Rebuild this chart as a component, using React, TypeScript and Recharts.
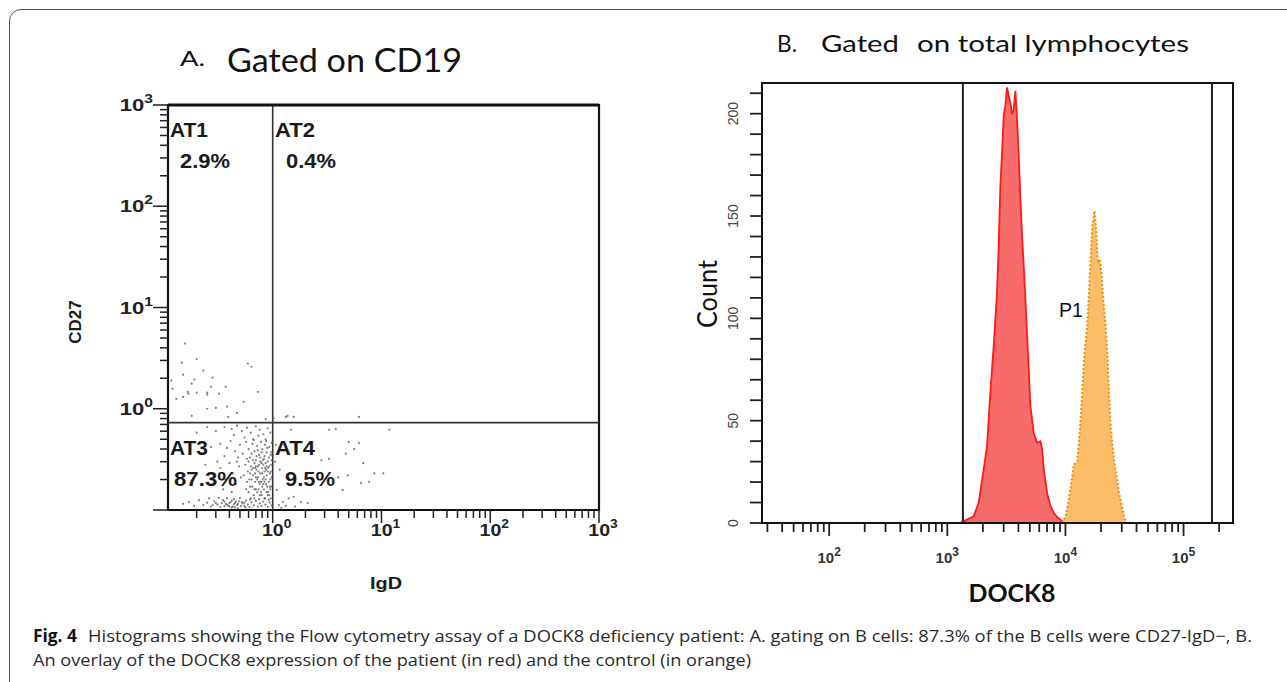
import React from 'react'
import {
  ScatterChart,
  Scatter,
  ComposedChart,
  Area,
  XAxis,
  YAxis,
  ReferenceLine,
  ReferenceArea,
} from 'recharts'

// ---- Panel A: CD27 vs IgD dot plot (gated on CD19), events ----
const AT1_EVENTS: [number, number][] = [
  [0.156, 4.4], [0.146, 2.85], [0.2, 3.1], [0.59, 2.8], [0.64, 2.6], [0.23, 2.38],
  [0.15, 2.17], [0.28, 2.03], [0.18, 1.77], [0.19, 1.94], [0.37, 1.65], [0.27, 1.65],
  [0.12, 1.58], [0.165, 1.47], [0.168, 1.41], [0.2, 1.44], [0.25, 1.44], [0.25, 1.38],
  [0.32, 1.41], [0.73, 1.47], [0.15, 1.31], [0.54, 1.17], [0.25, 1.0], [0.3, 1.02],
  [0.38, 1.05], [0.47, 0.91], [0.18, 0.85], [0.39, 0.83], [0.86, 0.79], [0.117, 1.9],
  [0.13, 1.25],
]

const AT2_EVENTS: [number, number][] = [
  [1.02, 0.81], [1.32, 0.83], [1.37, 0.85], [1.56, 0.83], [6.2, 0.83],
]

const AT3_EVENTS: [number, number][] = [
  // upper band of the negative population
  [0.36, 0.66], [0.42, 0.63], [0.47, 0.68], [0.52, 0.6], [0.58, 0.65], [0.63, 0.58],
  [0.7, 0.67], [0.76, 0.62], [0.82, 0.56], [0.9, 0.64], [0.95, 0.58], [0.55, 0.52],
  [0.66, 0.5], [0.74, 0.54], [0.86, 0.5], [0.44, 0.55], [0.3, 0.6], [0.25, 0.66], [0.2, 0.58],
  // middle
  [0.33, 0.45], [0.38, 0.41], [0.41, 0.48], [0.45, 0.38], [0.5, 0.44], [0.53, 0.36],
  [0.57, 0.47], [0.6, 0.4], [0.62, 0.33], [0.65, 0.45], [0.68, 0.38], [0.7, 0.31],
  [0.72, 0.43], [0.75, 0.35], [0.78, 0.47], [0.8, 0.4], [0.83, 0.32], [0.85, 0.44],
  [0.88, 0.37], [0.9, 0.3], [0.93, 0.42], [0.96, 0.35], [0.98, 0.46], [0.67, 0.49],
  [0.58, 0.32], [0.48, 0.33], [0.27, 0.42], [0.22, 0.36], [0.36, 0.34], [0.77, 0.3],
  [0.87, 0.48], [0.73, 0.39], [0.64, 0.36], [0.97, 0.37], [0.89, 0.41], [0.79, 0.37],
  // dense core
  [0.56, 0.28], [0.59, 0.24], [0.61, 0.2], [0.63, 0.27], [0.65, 0.17], [0.66, 0.22],
  [0.68, 0.29], [0.69, 0.19], [0.71, 0.25], [0.72, 0.15], [0.73, 0.21], [0.75, 0.28],
  [0.76, 0.18], [0.77, 0.23], [0.79, 0.14], [0.8, 0.26], [0.81, 0.2], [0.83, 0.16],
  [0.84, 0.24], [0.86, 0.29], [0.87, 0.18], [0.88, 0.22], [0.9, 0.14], [0.91, 0.26],
  [0.92, 0.19], [0.94, 0.23], [0.95, 0.16], [0.97, 0.28], [0.98, 0.21], [0.6, 0.15],
  [0.63, 0.13], [0.67, 0.14], [0.7, 0.27], [0.74, 0.16], [0.78, 0.19], [0.82, 0.28],
  [0.85, 0.13], [0.89, 0.17], [0.93, 0.27], [0.96, 0.13], [0.58, 0.19], [0.62, 0.23],
  [0.66, 0.26], [0.7, 0.16], [0.74, 0.24], [0.79, 0.29], [0.83, 0.21], [0.87, 0.25],
  [0.91, 0.15], [0.95, 0.2], [0.54, 0.22], [0.57, 0.16], [0.64, 0.2], [0.72, 0.2],
  [0.8, 0.17], [0.88, 0.27], [0.97, 0.17], [0.69, 0.23], [0.76, 0.14], [0.84, 0.19],
  [0.6, 0.3], [0.62, 0.17], [0.64, 0.25], [0.66, 0.31], [0.68, 0.16], [0.7, 0.21],
  [0.71, 0.34], [0.73, 0.27], [0.75, 0.19], [0.77, 0.33], [0.78, 0.15], [0.8, 0.23],
  [0.82, 0.18], [0.84, 0.34], [0.86, 0.2], [0.88, 0.15], [0.9, 0.24], [0.92, 0.33],
  [0.94, 0.17], [0.96, 0.24], [0.98, 0.31], [0.85, 0.26], [0.81, 0.31], [0.69, 0.26],
  [0.93, 0.14],
  // left, sparse
  [0.24, 0.28], [0.29, 0.22], [0.33, 0.26], [0.37, 0.2], [0.4, 0.29], [0.43, 0.23],
  [0.46, 0.18], [0.49, 0.27], [0.51, 0.21], [0.35, 0.16], [0.42, 0.15], [0.31, 0.3],
  [0.19, 0.21], [0.47, 0.3],
  // on the lower edge
  [0.15, 0.115], [0.17, 0.12], [0.19, 0.11], [0.21, 0.125], [0.23, 0.112], [0.25, 0.118],
  [0.27, 0.108], [0.29, 0.122], [0.31, 0.113], [0.33, 0.107], [0.35, 0.125], [0.37, 0.115],
  [0.39, 0.11], [0.41, 0.12], [0.43, 0.108], [0.45, 0.117], [0.47, 0.112], [0.49, 0.122],
  [0.51, 0.109], [0.53, 0.116], [0.55, 0.11], [0.57, 0.124], [0.59, 0.113], [0.61, 0.107],
  [0.64, 0.119], [0.67, 0.111], [0.7, 0.123], [0.73, 0.108], [0.76, 0.116], [0.79, 0.11],
  [0.82, 0.121], [0.86, 0.113], [0.9, 0.107], [0.94, 0.118], [0.98, 0.111], [0.38, 0.13],
  [0.44, 0.128], [0.5, 0.132], [0.32, 0.132], [0.26, 0.13], [0.42, 0.106], [0.36, 0.109],
  [0.48, 0.104], [0.56, 0.106], [0.62, 0.127], [0.68, 0.13], [0.75, 0.128], [0.84, 0.13],
  [0.92, 0.126], [0.34, 0.117], [0.36, 0.121], [0.38, 0.113], [0.4, 0.117], [0.42, 0.124],
  [0.44, 0.114], [0.46, 0.121], [0.48, 0.115], [0.4, 0.108], [0.45, 0.106], [0.52, 0.12],
  [0.3, 0.117], [0.28, 0.112], [0.55, 0.118],
]

const AT4_EVENTS: [number, number][] = [
  [1.47, 0.62], [3.8, 0.63], [11.8, 0.62], [3.3, 0.62], [5.0, 0.47], [5.6, 0.4],
  [6.2, 0.46], [2.8, 0.31], [3.3, 0.32], [4.7, 0.36], [6.8, 0.29], [10.4, 0.23],
  [8.6, 0.23], [7.7, 0.19], [6.5, 0.185], [4.9, 0.22], [4.4, 0.158], [4.0, 0.21],
  [1.24, 0.12], [1.4, 0.13], [1.56, 0.135], [1.82, 0.12], [2.1, 0.117], [1.14, 0.112],
  [1.32, 0.11], [1.09, 0.158], [1.16, 0.25], [1.07, 0.44], [1.2, 0.105], [1.6, 0.108],
  [1.05, 0.3],
]

const IGD_GATE = 1
const CD27_GATE = 0.73
const IGD_DOMAIN = [0.109, 1000]
const CD27_DOMAIN = [0.1, 1000]

const QUADRANT_LABELS = ['AT1', 'AT2', 'AT3', 'AT4']
const QUADRANT_PCT = ['2.9%', '0.4%', '87.3%', '9.5%']

// ---- Panel B: DOCK8 histograms ----
const PATIENT_DOCK8 = [
  1287, 1670, 1842, 2030, 2167, 2313, 2469, 2635, 2722, 2813, 2906, 3002, 3101, 3203,
  3309, 3420, 3532, 3648, 3770, 3895, 4024, 4158, 4295, 4437, 4585, 4736, 4893, 5054,
  5395, 5760, 6147, 6352, 6561, 7002, 7475, 7977, 8514, 9087, 9698,
]
const PATIENT_COUNT = [
  0, 3.3, 9.8, 26.1, 37.5, 63.6, 86.4, 112.5, 135.3, 164.7, 181, 198.9, 203.8, 212.8,
  208.7, 205.4, 199.7, 202.2, 211.2, 197.3, 179.4, 158.2, 140.2, 125.5, 109.2, 91.3, 75, 57.1,
  44, 39.1, 39.9, 35.9, 26.1, 14.7, 8.2, 4.9, 2.9, 1.6, 0.3,
]
const CONTROL_DOCK8 = [
  9389, 10020, 10693, 11413, 11790, 12586, 13265, 13881, 14338, 15302, 15810, 16336, 16876,
  17660, 18250, 18850, 19605, 20256, 20925, 21900, 22630, 23380, 24150, 25770, 28420, 30330,
  31330, 32370,
]
const CONTROL_COUNT = [
  0, 3.3, 11.4, 22.8, 28.5, 30.2, 45.7, 63.6, 79.9, 96.2, 112.5, 128.8, 145.1,
  152.5, 141.9, 127.2, 128.8, 120.7, 109.2, 96.2, 83.2, 63.6, 47.3, 31, 14.7, 7.3,
  3.3, 0,
]
const P1_GATE = [1355, 174000]
const DOCK8_DOMAIN = [27, 262144]
const COUNT_DOMAIN = [0, 215]
const COUNT_TICKS = Array.from({ length: 22 }, (_, i) => i * 10)
const COUNT_LABELS = [0, 50, 100, 150, 200]

// log axis ticks: 1..9 x each decade
const logTicks = (decades: number[], lo: number, hi: number) =>
  decades
    .flatMap((d) => [1, 2, 3, 4, 5, 6, 7, 8, 9].map((m) => +(m * d).toPrecision(3)))
    .concat([hi])
    .filter((v) => v >= lo && v <= hi)

const A_X_TICKS = logTicks([0.1, 1, 10, 100], IGD_DOMAIN[0], IGD_DOMAIN[1])
const A_Y_TICKS = logTicks([0.1, 1, 10, 100], CD27_DOMAIN[0], CD27_DOMAIN[1])
const B_X_TICKS = logTicks([10, 100, 1000, 10000], 30, 100000).concat([200000])

const isDecade = (v: number) => {
  const l = Math.log10(v)
  return Math.abs(l - Math.round(l)) < 1e-6
}
const expOf = (v: number) => Math.round(Math.log10(v))

const ARIAL = '"Liberation Sans", Arial, sans-serif'
const HUMAN = 'Lato, "Open Sans", sans-serif'

function XTickA({ x, y, payload }: any) {
  const major = isDecade(payload.value)
  return (
    <g>
      <line x1={x} x2={x} y1={y} y2={y + (major ? 13 : 8)} stroke="#222" strokeWidth={1.5} />
      {major && (
        <text
          transform={`translate(${x + 4},${y + 26}) scale(1.15,1)`}
          textAnchor="middle" fontFamily={ARIAL} fontWeight="bold" fontSize={17} fill="#222"
        >
          10<tspan dy={-8} fontSize={12}>{expOf(payload.value)}</tspan>
        </text>
      )}
    </g>
  )
}

function YTickA({ x, y, payload }: any) {
  const major = isDecade(payload.value)
  const e = expOf(payload.value)
  return (
    <g>
      <line x1={x} x2={x - (major ? 15 : 8)} y1={y} y2={y} stroke="#222" strokeWidth={1.5} />
      {major && e >= 0 && (
        <text
          transform={`translate(${x - 15},${y + 6}) scale(1.3,1)`}
          textAnchor="end" fontFamily={ARIAL} fontWeight="bold" fontSize={17} fill="#222"
        >
          10<tspan dy={-8} fontSize={12}>{e}</tspan>
        </text>
      )}
    </g>
  )
}

function XTickB({ x, y, payload }: any) {
  const major = isDecade(payload.value)
  return (
    <g>
      <line x1={x} x2={x} y1={y} y2={y + (major ? 13 : 9)} stroke="#222" strokeWidth={1.8} />
      {major && (
        <text x={x} y={y + 40} textAnchor="middle" fontFamily={ARIAL} fontWeight="bold" fontSize={15} fill="#333">
          10<tspan dy={-7} fontSize={12}>{expOf(payload.value)}</tspan>
        </text>
      )}
    </g>
  )
}

function YTickB({ x, y, payload }: any) {
  const v = payload.value
  return (
    <g>
      <line x1={x} x2={x - 12} y1={y} y2={y} stroke="#222" strokeWidth={1.8} />
      {COUNT_LABELS.includes(v) && (
        <text transform={`translate(${x - 24},${y}) rotate(-90)`} textAnchor="middle" fontFamily={ARIAL} fontSize={14} fill="#444">
          {v}
        </text>
      )}
    </g>
  )
}

const eventDot = (p: any) => <circle cx={p.cx} cy={p.cy} r={1.1} fill="#555" fillOpacity={0.75} />

export default function App() {
  const events = [...AT1_EVENTS, ...AT2_EVENTS, ...AT3_EVENTS, ...AT4_EVENTS].map(([x, y]) => ({ x, y }))

  const histRows = [
    ...PATIENT_DOCK8.map((d, i) => ({ dock8: d, patient: PATIENT_COUNT[i], control: null })),
    ...CONTROL_DOCK8.map((d, i) => ({ dock8: d, patient: null, control: CONTROL_COUNT[i] })),
  ].sort((a, b) => a.dock8 - b.dock8)

  // quadrant label anchors: x of name, x of %, widths, baseline of name
  const qPos = [
    { x: 170, px: 180, w: 38, pw: 50, y: 137 },
    { x: 275, px: 286, w: 40, pw: 50, y: 137 },
    { x: 170, px: 174, w: 38, pw: 63, y: 455 },
    { x: 275, px: 285, w: 40, pw: 50, y: 455 },
  ]

  return (
    <div style={{ position: 'absolute', left: 0, top: 0, width: 1287, height: 682, overflow: 'hidden', background: '#fff' }}>
      <div
        style={{
          position: 'absolute', left: 9, top: 9, width: 1310, height: 710,
          border: '1.5px solid #555', borderRadius: 12, boxSizing: 'border-box',
        }}
      />

      {/* A. dot plot */}
      <div style={{ position: 'absolute', left: 88, top: 90 }}>
        <ScatterChart width={530} height={470} margin={{ top: 15, right: 19, bottom: 0, left: 0 }}>
          <XAxis
            type="number" dataKey="x" scale="log" domain={IGD_DOMAIN} allowDataOverflow
            ticks={A_X_TICKS} interval={0} tick={XTickA} tickLine={false} axisLine={false}
            tickSize={0} tickMargin={0} height={50}
          />
          <YAxis
            type="number" dataKey="y" scale="log" domain={CD27_DOMAIN} allowDataOverflow
            ticks={A_Y_TICKS} interval={0} tick={YTickA} tickLine={false} axisLine={false}
            tickSize={0} tickMargin={0} width={80}
          />
          <Scatter data={events} isAnimationActive={false} shape={eventDot} />
          <ReferenceLine x={IGD_GATE} stroke="#333" strokeWidth={1.6} />
          <ReferenceLine y={CD27_GATE} stroke="#333" strokeWidth={1.6} />
          <ReferenceArea
            x1={IGD_DOMAIN[0]} x2={IGD_DOMAIN[1]} y1={CD27_DOMAIN[0]} y2={CD27_DOMAIN[1]}
            fill="none" stroke="#111" strokeWidth={2.2} ifOverflow="visible"
          />
          <ReferenceLine y={CD27_DOMAIN[1]} stroke="#111" strokeWidth={3.2} />
        </ScatterChart>
      </div>

      {/* B. DOCK8 overlay histogram */}
      <div style={{ position: 'absolute', left: 690, top: 70 }}>
        <ComposedChart width={560} height={520} data={histRows} margin={{ top: 13, right: 17, bottom: 0, left: 0 }}>
          <XAxis
            type="number" dataKey="dock8" scale="log" domain={DOCK8_DOMAIN} allowDataOverflow
            ticks={B_X_TICKS} interval={0} tick={XTickB} tickLine={false} axisLine={false}
            tickSize={0} tickMargin={0} height={67}
          />
          <YAxis
            type="number" domain={COUNT_DOMAIN} allowDataOverflow ticks={COUNT_TICKS} interval={0}
            tick={YTickB} tickLine={false} axisLine={false} tickSize={0} tickMargin={0} width={72}
          />
          <Area
            dataKey="patient" type="linear" connectNulls stroke="#ff1a1a" strokeWidth={1.8}
            fill="#f76b6b" fillOpacity={1} dot={false} activeDot={false} isAnimationActive={false}
          />
          <Area
            dataKey="control" type="linear" connectNulls stroke="#f0900f" strokeWidth={2}
            strokeDasharray="2 2" fill="#fbbd68" fillOpacity={1} dot={false} activeDot={false}
            isAnimationActive={false}
          />
          <ReferenceLine x={P1_GATE[0]} stroke="#222" strokeWidth={2} />
          <ReferenceLine x={P1_GATE[1]} stroke="#222" strokeWidth={2} />
          <ReferenceArea
            x1={DOCK8_DOMAIN[0]} x2={DOCK8_DOMAIN[1]} y1={COUNT_DOMAIN[0]} y2={COUNT_DOMAIN[1]}
            fill="none" stroke="#111" strokeWidth={2} ifOverflow="visible"
          />
        </ComposedChart>
      </div>

      {/* titles, axis names, quadrant stats, caption */}
      <svg width={1287} height={682} style={{ position: 'absolute', left: 0, top: 0, pointerEvents: 'none' }}>
        <text x={180} y={66} fontFamily={HUMAN} fontSize={21} fill="#111" textLength={25} lengthAdjust="spacingAndGlyphs">A.</text>
        <text x={227} y={72} fontFamily={HUMAN} fontSize={33} fill="#111" textLength={235} lengthAdjust="spacingAndGlyphs">Gated on CD19</text>

        <text x={777} y={52} fontFamily={HUMAN} fontSize={24} fill="#111" textLength={20} lengthAdjust="spacingAndGlyphs">B.</text>
        <text x={821} y={52} fontFamily={HUMAN} fontSize={24} fill="#111" textLength={78} lengthAdjust="spacingAndGlyphs">Gated</text>
        <text x={917} y={52} fontFamily={HUMAN} fontSize={24} fill="#111" textLength={272} lengthAdjust="spacingAndGlyphs">on total lymphocytes</text>

        {QUADRANT_LABELS.map((q, i) => (
          <g key={q}>
            <text x={qPos[i].x} y={qPos[i].y} fontFamily={ARIAL} fontWeight="bold" fontSize={21} fill="#1a1a1a" textLength={qPos[i].w} lengthAdjust="spacingAndGlyphs">{q}</text>
            <text x={qPos[i].px} y={qPos[i].y + 31} fontFamily={ARIAL} fontWeight="bold" fontSize={20} fill="#1a1a1a" textLength={qPos[i].pw} lengthAdjust="spacingAndGlyphs">{QUADRANT_PCT[i]}</text>
          </g>
        ))}

        <text transform="translate(81,322) rotate(-90)" textAnchor="middle" fontFamily={ARIAL} fontWeight="bold" fontSize={17} fill="#1a1a1a">CD27</text>
        <text x={386} y={589} textAnchor="middle" fontFamily={ARIAL} fontWeight="bold" fontSize={17} fill="#1a1a1a" textLength={32} lengthAdjust="spacingAndGlyphs">IgD</text>

        <text transform="translate(717,294) rotate(-90)" textAnchor="middle" fontFamily={HUMAN} fontSize={26} fill="#111" textLength={68} lengthAdjust="spacingAndGlyphs">Count</text>
        <text x={1012} y={602} textAnchor="middle" fontFamily={HUMAN} fontWeight="bold" fontSize={24} fill="#111" textLength={87} lengthAdjust="spacingAndGlyphs">DOCK8</text>
        <text x={1059} y={317} fontFamily={ARIAL} fontSize={21} fill="#111" textLength={24} lengthAdjust="spacingAndGlyphs">P1</text>

        <text x={33} y={642} fontFamily='"Open Sans", sans-serif' fontWeight="bold" fontSize={17} fill="#111" textLength={44} lengthAdjust="spacingAndGlyphs">Fig. 4</text>
        <text x={88} y={642} fontFamily='"Open Sans", sans-serif' fontSize={17} fill="#2a2a2a" textLength={1164} lengthAdjust="spacingAndGlyphs">
          Histograms showing the Flow cytometry assay of a DOCK8 deficiency patient: A. gating on B cells: 87.3% of the B cells were CD27-IgD−, B.
        </text>
        <text x={33} y={666} fontFamily='"Open Sans", sans-serif' fontSize={17} fill="#2a2a2a" textLength={718} lengthAdjust="spacingAndGlyphs">
          An overlay of the DOCK8 expression of the patient (in red) and the control (in orange)
        </text>
      </svg>
    </div>
  )
}
